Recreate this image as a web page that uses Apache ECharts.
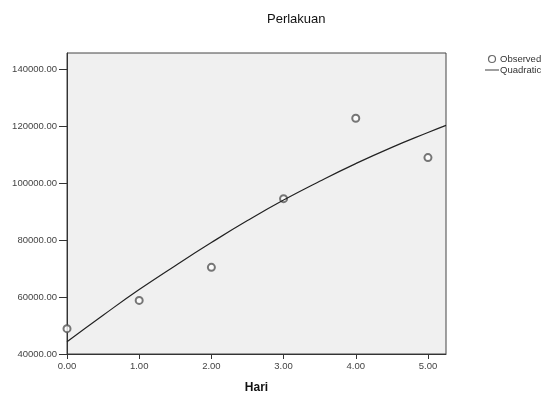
<!DOCTYPE html>
<html>
<head>
<meta charset="utf-8">
<script src="https://cdn.jsdelivr.net/npm/echarts@6/dist/echarts.min.js"></script>
<style>
  html, body { margin: 0; padding: 0; background: #fff; }
  #chart { width: 552px; height: 394px; }
</style>
</head>
<body>
<div id="chart"></div>
<script>
// observed values (Hari vs Perlakuan)
const hari = [0, 1, 2, 3, 4, 5]
const observed = [48900, 58800, 70400, 94500, 122700, 108900]

// quadratic fit line
const fitX = [0, 0.5, 1, 1.5, 2, 2.5, 3, 3.5, 4, 4.5, 5, 5.25]
const fitY = [44300, 53600, 62600, 71000, 79100, 86800, 94000, 100600, 106800, 112500, 117700, 120200]

const yTicks = [40000, 60000, 80000, 100000, 120000, 140000]
const xTicks = [0, 1, 2, 3, 4, 5]

const font = 'Liberation Sans, Arial, sans-serif'
const chart = echarts.init(document.getElementById('chart'))

chart.setOption({
  animation: false,
  backgroundColor: '#fff',
  title: {
    text: 'Perlakuan',
    left: 262,
    top: 8,
    textStyle: { fontFamily: font, fontSize: 13, fontWeight: 'normal', color: '#111' }
  },
  legend: {
    orient: 'vertical',
    left: 485,
    top: 54,
    padding: 0,
    itemWidth: 14,
    itemHeight: 7,
    itemGap: 1,
    textStyle: { fontFamily: font, fontSize: 9.5, color: '#333', padding: [0, 0, 0, -4] },
    data: [
      { name: 'Observed', icon: 'circle', itemStyle: { color: 'transparent', borderColor: '#444', borderWidth: 1.2 } },
      { name: 'Quadratic', icon: 'path://M0 0H30V2H0Z', itemStyle: { color: '#333', borderWidth: 0 } }
    ]
  },
  grid: {
    left: 67,
    right: 106,
    top: 53,
    bottom: 40,
    outerBoundsMode: 'none',
    show: true,
    backgroundColor: '#f0f0f0',
    borderColor: '#444',
    borderWidth: 1
  },
  xAxis: {
    type: 'value',
    min: 0,
    max: 5.25,
    name: 'Hari',
    nameLocation: 'middle',
    nameGap: 28,
    nameTextStyle: { fontFamily: font, fontSize: 12, fontWeight: 'bold', color: '#111' },
    axisLine: { show: true, lineStyle: { color: '#333' } },
    axisTick: { show: true, length: 5, customValues: xTicks, lineStyle: { color: '#333' } },
    axisLabel: {
      customValues: xTicks,
      margin: 7,
      fontFamily: font,
      fontSize: 9.5,
      color: '#444',
      formatter: v => v.toFixed(2)
    },
    splitLine: { show: false }
  },
  yAxis: {
    type: 'value',
    min: 40000,
    max: 145600,
    axisLine: { show: true, lineStyle: { color: '#333' } },
    axisTick: { show: true, length: 8, customValues: yTicks, lineStyle: { color: '#333' } },
    axisLabel: {
      customValues: yTicks,
      margin: 10,
      fontFamily: font,
      fontSize: 9.5,
      color: '#444',
      formatter: v => v.toFixed(2)
    },
    splitLine: { show: false }
  },
  series: [
    {
      name: 'Observed',
      type: 'scatter',
      symbol: 'emptyCircle',
      symbolSize: 7,
      itemStyle: { color: '#555', borderColor: '#555', borderWidth: 1.3 },
      data: hari.map((x, i) => [x, observed[i]])
    },
    {
      name: 'Quadratic',
      type: 'line',
      smooth: true,
      symbol: 'none',
      itemStyle: { color: '#222' },
      lineStyle: { color: '#222', width: 1.2 },
      data: fitX.map((x, i) => [x, fitY[i]])
    }
  ]
})
</script>
</body>
</html>
